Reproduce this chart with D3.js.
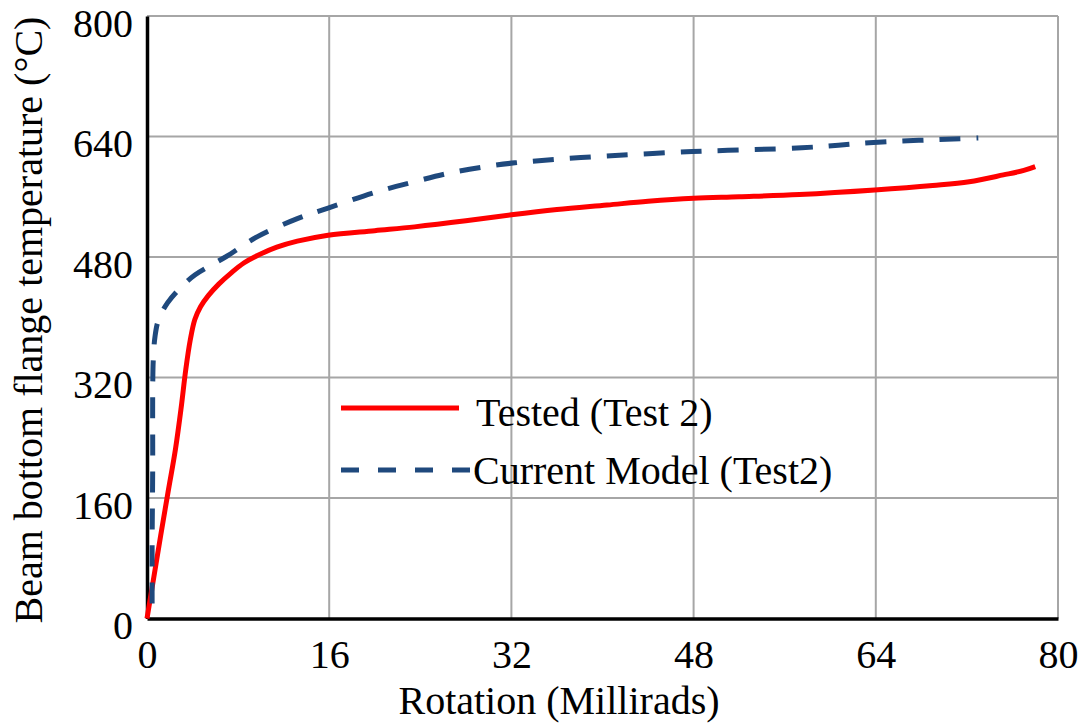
<!DOCTYPE html>
<html>
<head>
<meta charset="utf-8">
<script src="https://cdn.jsdelivr.net/npm/d3@7"></script>
<style>
  body { margin: 0; background: #fff; }
  text { font-family: "Liberation Serif", "Times New Roman", serif; fill: #000; }
</style>
</head>
<body>
<svg id="chart" width="1089" height="727"></svg>
<script>
// Tick labels
const xTicks = [0, 16, 32, 48, 64, 80];
const yTicks = [0, 160, 320, 480, 640, 800];

// Tested (Test 2) - rotation (millirads) vs temperature (C)
const testedRot  = [0, 0.6, 1.2, 1.85, 2.5, 3.0, 3.4, 3.8, 4.2, 4.7, 5.4, 6.3, 7.4, 8.5, 9.7, 11.4, 13.2, 15.9, 20, 23.5, 28, 32, 36, 40.4, 44, 48, 52, 57.3, 63.9, 69, 72.2, 75.2, 77, 78];
const testedTemp = [0, 55, 110, 168, 225, 280, 330, 370, 397, 414, 429, 444, 459, 472, 482, 493, 501, 509, 515, 520, 528, 536, 543, 549, 554, 558, 560, 563, 569, 575, 580, 589, 595, 600];

// Current Model (Test2)
const modelRot  = [0.45, 0.45, 0.5, 0.5, 0.55, 0.7, 1.0, 1.8, 3.0, 4.2, 5.5, 7.0, 9.7, 13.2, 15.9, 20.3, 23.5, 26.4, 29.3, 32.3, 38.1, 47.9, 57.5, 63.8, 73.0];
const modelTemp = [20, 100, 200, 300, 343, 374, 396, 419, 440, 456, 468, 481, 507, 531, 545, 567, 580, 591, 599, 605, 612, 620, 625, 632, 638];

const seriesNames = ["Tested (Test 2)", "Current Model (Test2)"];
const seriesColors = ["#ff0000", "#1f497d"];

// Layout (pixels in the 1089x727 frame)
const plotLeft = 147, plotRight = 1058, plotTop = 16, plotBottom = 618.5;
const fontSize = 40;

const svg = d3.select('#chart');

const x = d3.scaleLinear().domain([0, 80]).range([plotLeft, plotRight]);
const y = d3.scaleLinear().domain([0, 800]).range([plotBottom, plotTop]);

// grid lines
const grid = svg.append('g').attr('class', 'grid');
grid.selectAll('line.v')
  .data(xTicks.slice(1))
  .join('line')
  .attr('x1', d => x(d)).attr('x2', d => x(d))
  .attr('y1', y(800)).attr('y2', y(0))
  .style('stroke', '#a6a6a6').style('stroke-width', 2);
grid.selectAll('line.h')
  .data(yTicks.slice(1))
  .join('line')
  .attr('x1', x(0)).attr('x2', x(80))
  .attr('y1', d => y(d)).attr('y2', d => y(d))
  .style('stroke', '#a6a6a6').style('stroke-width', 2);

// axes
const xAxis = svg.append('g')
  .attr('transform', `translate(0,${plotBottom})`)
  .call(d3.axisBottom(x).tickValues(xTicks).tickSize(0).tickPadding(21).tickFormat(d3.format('d')));
const yAxis = svg.append('g')
  .attr('transform', `translate(${plotLeft},0)`)
  .call(d3.axisLeft(y).tickValues(yTicks).tickSize(0).tickPadding(14).tickFormat(d3.format('d')));

[xAxis, yAxis].forEach(a => {
  a.select('.domain').style('stroke', '#000').style('stroke-width', 3.5);
  a.selectAll('text').style('font-size', fontSize + 'px').style('font-family', '"Liberation Serif", serif');
});
yAxis.selectAll('text').attr('dy', '0.5em');

// series
const line = d3.line()
  .x(d => x(d[0]))
  .y(d => y(d[1]))
  .curve(d3.curveCatmullRom.alpha(0.5));

const tested = d3.zip(testedRot, testedTemp);
const model = d3.zip(modelRot, modelTemp);

svg.append('path')
  .datum(tested)
  .attr('d', line)
  .style('fill', 'none')
  .style('stroke', seriesColors[0])
  .style('stroke-width', 5);

svg.append('path')
  .datum(model)
  .attr('d', line)
  .style('fill', 'none')
  .style('stroke', seriesColors[1])
  .style('stroke-width', 5)
  .style('stroke-dasharray', '21,16');

// axis titles
svg.append('text')
  .attr('x', 559)
  .attr('y', 714)
  .attr('text-anchor', 'middle')
  .style('font-size', fontSize + 'px')
  .text('Rotation (Millirads)');

svg.append('text')
  .attr('transform', 'translate(42,320) rotate(-90)')
  .attr('text-anchor', 'middle')
  .style('font-size', fontSize + 'px')
  .text('Beam bottom flange temperature (°C)');

// legend
const legend = svg.append('g').attr('class', 'legend');
const legendRows = [
  { name: seriesNames[0], color: seriesColors[0], dash: null, y: 408, x2: 459, tx: 476, ty: 426 },
  { name: seriesNames[1], color: seriesColors[1], dash: '18,19', y: 470, x2: 471, tx: 473, ty: 484 }
];
legendRows.forEach(r => {
  legend.append('line')
    .attr('x1', 341).attr('x2', r.x2)
    .attr('y1', r.y).attr('y2', r.y)
    .style('stroke', r.color)
    .style('stroke-width', 5)
    .style('stroke-dasharray', r.dash);
  legend.append('text')
    .attr('x', r.tx)
    .attr('y', r.ty)
    .style('font-size', fontSize + 'px')
    .text(r.name);
});
</script>
</body>
</html>
